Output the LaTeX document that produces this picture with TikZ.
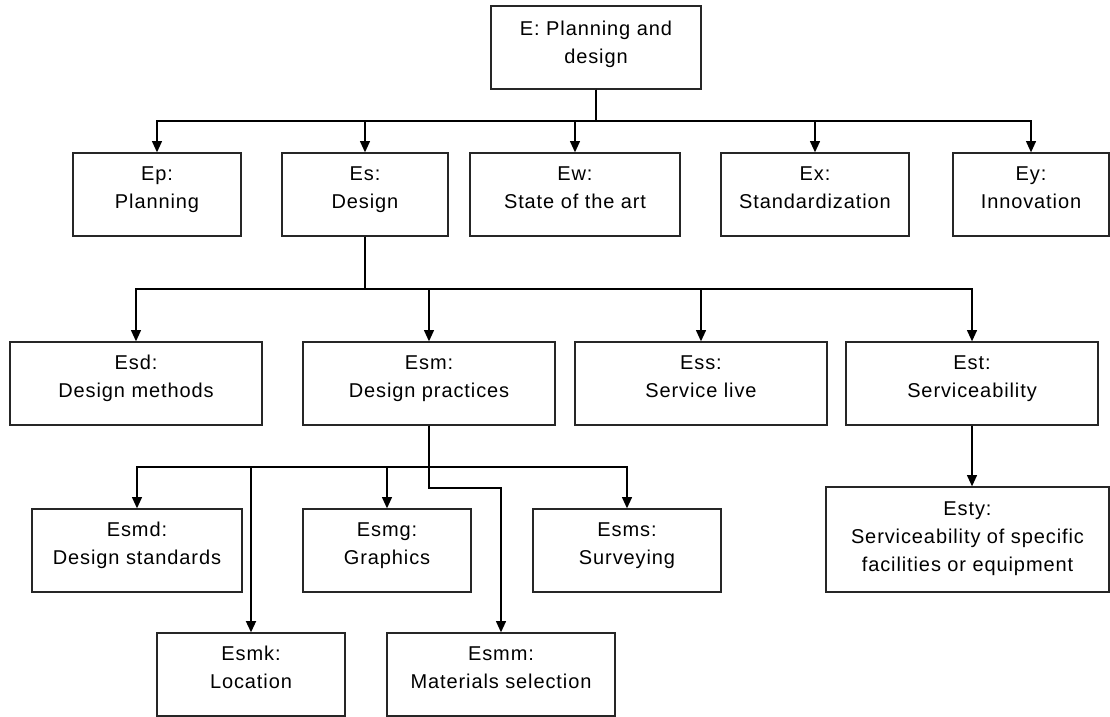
\documentclass[tikz,border=0pt]{standalone}
\usepackage{fontspec}
\setmainfont{Liberation Sans}[LetterSpace=4.5]
\usetikzlibrary{arrows.meta}
\newcommand\boxtext[2][8pt]{\raisebox{0pt}[\height][\dimexpr\depth+#1\relax]{\begin{tabular}{@{}c@{}}#2\end{tabular}}}
\begin{document}
\begin{tikzpicture}[x=0.75pt,y=-0.75pt,
  bx/.style={draw=black!85, line width=1pt, rectangle, inner sep=0pt,
    minimum height=62.25pt, font=\fontsize{15}{21}\selectfont, text=black},
  conn/.style={line width=1.1pt, draw=black, -{Triangle[width=7.5pt,length=8.5pt]}},
]
\useasboundingbox (0,0) rectangle (1110,717);
% level 0
\node[bx, minimum width=157.5pt] (E) at (596,47.5) {\boxtext[6pt]{E: Planning and\\design}};
% level 1
\node[bx, minimum width=126pt] (Ep) at (157,194.5) {\boxtext{Ep:\\Planning}};
\node[bx, minimum width=124.5pt] (Es) at (365,194.5) {\boxtext{Es:\\Design}};
\node[bx, minimum width=157.5pt] (Ew) at (575,194.5) {\boxtext{Ew:\\State of the art}};
\node[bx, minimum width=141pt] (Ex) at (815,194.5) {\boxtext{Ex:\\Standardization}};
\node[bx, minimum width=117pt] (Ey) at (1031,194.5) {\boxtext{Ey:\\Innovation}};
% level 2
\node[bx, minimum width=189pt] (Esd) at (136,383.5) {\boxtext{Esd:\\Design methods}};
\node[bx, minimum width=189pt] (Esm) at (429,383.5) {\boxtext{Esm:\\Design practices}};
\node[bx, minimum width=189pt] (Ess) at (701,383.5) {\boxtext{Ess:\\Service live}};
\node[bx, minimum width=189pt] (Est) at (972,383.5) {\boxtext{Est:\\Serviceability}};
% level 3
\node[bx, minimum width=157.5pt] (Esmd) at (137,550.5) {\boxtext{Esmd:\\Design standards}};
\node[bx, minimum width=126pt] (Esmg) at (387,550.5) {\boxtext{Esmg:\\Graphics}};
\node[bx, minimum width=141pt] (Esms) at (627,550.5) {\boxtext{Esms:\\Surveying}};
\node[bx, minimum width=212.25pt, minimum height=78.75pt] (Esty) at (967.5,539.5) {\boxtext[3pt]{Esty:\\Serviceability of specific\\facilities or equipment}};
% level 4
\node[bx, minimum width=141pt] (Esmk) at (251,674.5) {\boxtext{Esmk:\\Location}};
\node[bx, minimum width=171pt] (Esmm) at (501,674.5) {\boxtext{Esmm:\\Materials selection}};
% bus points
\coordinate (b1) at (596,121);
\coordinate (b2) at (365,289);
\coordinate (b3) at (429,467);
\coordinate (j4) at (501,488);
% connectors
\foreach \n in {Ep,Es,Ew,Ex,Ey} \draw[conn] (E.south) -- (b1) -| (\n.north);
\foreach \n in {Esd,Esm,Ess,Est} \draw[conn] (Es.south) -- (b2) -| (\n.north);
\foreach \n in {Esmd,Esmg,Esms} \draw[conn] (Esm.south) -- (b3) -| (\n.north);
\draw[conn, line width=1.5pt] (Esm.south) -- (b3) -| (Esmk.north);
\draw[conn] (Esm.south) |- (j4) -| (Esmm.north);
\draw[conn] (Est.south) -- (Est.south |- Esty.north);
\end{tikzpicture}
\end{document}
